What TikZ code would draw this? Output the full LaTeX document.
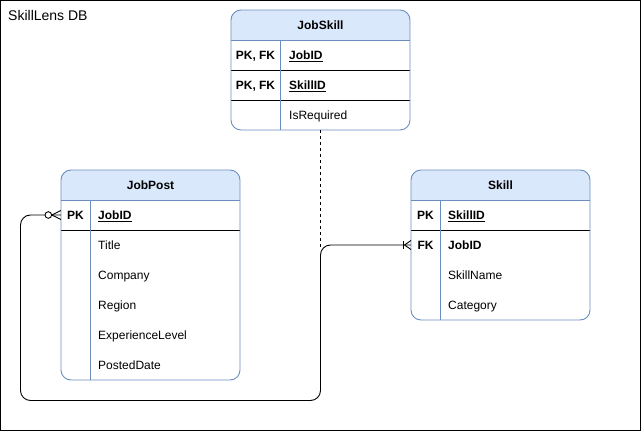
\documentclass[tikz,border=0pt]{standalone}
\usepackage{fontspec}
\setmainfont{Liberation Sans}
\definecolor{hdrfill}{HTML}{DAE8FC}
\definecolor{hdrline}{HTML}{6C8EBF}
\begin{document}
\begin{tikzpicture}[x=1pt,y=-1pt,
  tblbox/.style={inner sep=0pt, outer sep=0pt, anchor=north west, shape=rectangle},
  border/.style={draw=hdrline, line width=0.9pt, rounded corners=10pt},
  hdrsep/.style={draw=hdrline, line width=0.9pt},
  keysep/.style={draw=black, line width=0.9pt},
  titlet/.style={anchor=base, font=\fontsize{12}{14}\selectfont\bfseries},
  keyt/.style={anchor=base, font=\fontsize{12}{14}\selectfont\bfseries},
  valt/.style={anchor=base west, inner sep=0pt, font=\fontsize{12}{14}\selectfont},
  pkval/.style={anchor=base west, inner sep=0pt, font=\fontsize{12}{14}\selectfont\bfseries},
  rel/.style={draw=black, line width=0.9pt},
  endmark/.style={draw=black, line width=0.9pt}
]
\useasboundingbox (0,0) rectangle (641,431);
\draw[black, line width=1pt] (0.5,0.5) rectangle (640.5,430.5);
\node[anchor=base west, inner sep=0pt, font=\fontsize{14}{16}\selectfont] (dbname) at (8,20.5) {SkillLens DB};

% ---------- JobSkill ----------
\node[tblbox, minimum width=179pt, minimum height=120pt] (jobskill) at (231,10) {};
\begin{scope}
  \clip[rounded corners=10pt] (231,10) rectangle (410,130);
  \fill[hdrfill] (231,10) rectangle (410,40);
\end{scope}
\draw[hdrsep] (231,40) -- (410,40);
\draw[keysep] (231,70) -- (410,70);
\draw[keysep] (231,100) -- (410,100);
\draw[hdrsep] (280,40) -- (280,130);
\draw[border] (231,10) rectangle (410,130);
\node[titlet] (jstitle) at (320.5,29.3) {JobSkill};
\node[keyt] (jsk1) at (255.5,59.3) {PK, FK};
\node[pkval] (jsv1) at (289,59.3) {\underline{JobID}};
\node[keyt] (jsk2) at (255.5,89.3) {PK, FK};
\node[pkval] (jsv2) at (289,89.3) {\underline{SkillID}};
\node[valt] (jsv3) at (289,119.3) {IsRequired};

% ---------- JobPost ----------
\node[tblbox, minimum width=179pt, minimum height=210pt] (jobpost) at (61,170) {};
\begin{scope}
  \clip[rounded corners=10pt] (61,170) rectangle (240,380);
  \fill[hdrfill] (61,170) rectangle (240,200);
\end{scope}
\draw[hdrsep] (61,200) -- (240,200);
\draw[keysep] (61,230) -- (240,230);
\draw[hdrsep] (90,200) -- (90,380);
\draw[border] (61,170) rectangle (240,380);
\node[titlet] (jptitle) at (150.5,189.3) {JobPost};
\node[keyt] (jpk1) at (75.5,219.3) {PK};
\node[pkval] (jpv1) at (98,219.3) {\underline{JobID}};
\node[valt] (jpv2) at (98,249.3) {Title};
\node[valt] (jpv3) at (98,279.3) {Company};
\node[valt] (jpv4) at (98,309.3) {Region};
\node[valt] (jpv5) at (98,339.3) {ExperienceLevel};
\node[valt] (jpv6) at (98,369.3) {PostedDate};

% ---------- Skill ----------
\node[tblbox, minimum width=179pt, minimum height=150pt] (skill) at (411,170) {};
\begin{scope}
  \clip[rounded corners=10pt] (411,170) rectangle (590,320);
  \fill[hdrfill] (411,170) rectangle (590,200);
\end{scope}
\draw[hdrsep] (411,200) -- (590,200);
\draw[keysep] (411,230) -- (590,230);
\draw[hdrsep] (440,200) -- (440,320);
\draw[border] (411,170) rectangle (590,320);
\node[titlet] (sktitle) at (500.5,189.3) {Skill};
\node[keyt] (skk1) at (425.5,219.3) {PK};
\node[pkval] (skv1) at (448,219.3) {\underline{SkillID}};
\node[keyt] (skk2) at (425.5,249.3) {FK};
\node[pkval] (skv2) at (448,249.3) {JobID};
\node[valt] (skv3) at (448,279.3) {SkillName};
\node[valt] (skv4) at (448,309.3) {Category};

% ---------- connectors ----------
\coordinate (jpJobID) at (61,215);
\coordinate (skJobID) at (411,245);
\coordinate (jsEnd) at (320.5,248);

\draw[rel, dash pattern=on 3pt off 3pt] (jobskill.south) -- (jsEnd);

\draw[rel, rounded corners=10pt] (skJobID) -- (320.5,245) -- (320.5,400.5) -- (20.5,400.5) -- (20.5,215) -- (jpJobID);

% zero-to-many at JobPost
\draw[endmark] (51.7,215) -- (61,210.5);
\draw[endmark] (51.7,215) -- (61,219.5);
\draw[endmark, fill=white] (48.3,215) circle (3.3pt);
% one-to-many at Skill
\draw[endmark] (404.5,245) -- (411,240.5);
\draw[endmark] (404.5,245) -- (411,249.5);
\draw[endmark] (403.5,241) -- (403.5,249);
\end{tikzpicture}
\end{document}
